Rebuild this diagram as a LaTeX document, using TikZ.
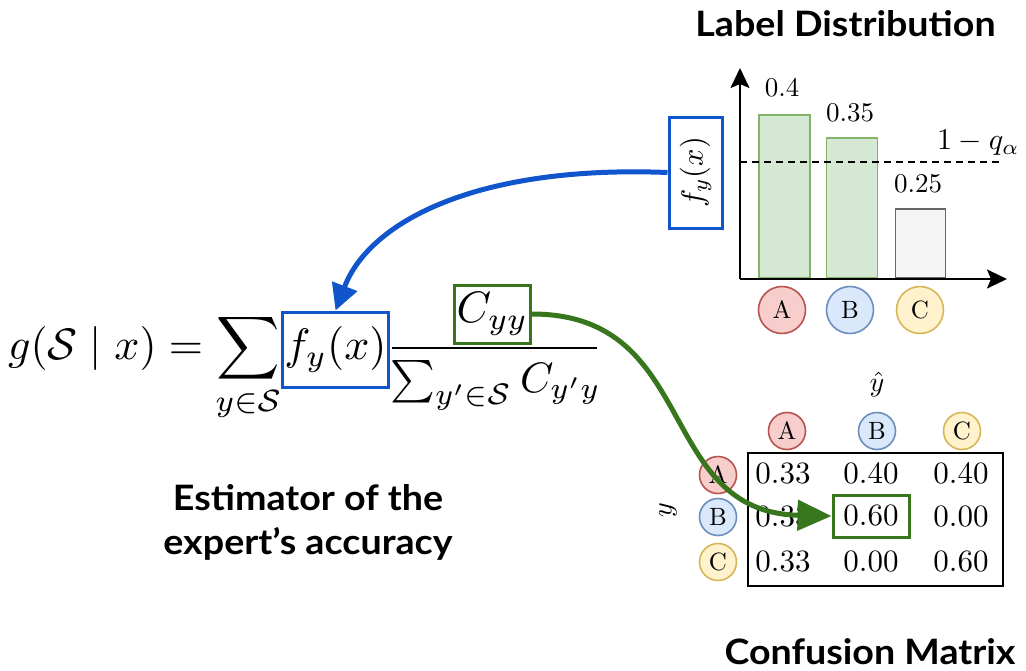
\documentclass[tikz,border=0pt]{standalone}
\usepackage{amsmath}
\usepackage{graphicx}
\usepackage{fontspec}
\newfontfamily\latofont{Lato}[FakeStretch=1.075]
\usetikzlibrary{arrows.meta}
\newcommand{\rsScale}[2]{\scalebox{#1}{#2}}
\definecolor{fblue}{HTML}{1155CC}
\definecolor{cgreen}{HTML}{38761D}
\definecolor{barfill}{HTML}{D5E8D4}
\definecolor{barline}{HTML}{82B366}
\definecolor{greyfill}{HTML}{F5F5F5}
\definecolor{greyline}{HTML}{666666}
\definecolor{afill}{HTML}{F8CECC}
\definecolor{aline}{HTML}{B85450}
\definecolor{bfill}{HTML}{DAE8FC}
\definecolor{bline}{HTML}{6C8EBF}
\definecolor{cfill}{HTML}{FFF2CC}
\definecolor{cline}{HTML}{D6B656}
\begin{document}
\begin{tikzpicture}[x=1pt,y=-1pt,
  title/.style={font=\latofont\bfseries\fontsize{35}{45}\selectfont, inner sep=0pt},
  plain/.style={inner sep=0pt},
  axisline/.style={line width=2.2pt, -{Stealth[length=20pt,width=19pt,inset=4pt]}},
  barG/.style={draw=barline, fill=barfill, line width=1.6pt, minimum width=51pt, anchor=south, inner sep=0pt},
  barW/.style={draw=greyline, fill=greyfill, line width=1.6pt, minimum width=50pt, anchor=south, inner sep=0pt},
  circA/.style={circle, draw=aline, fill=afill, line width=1.6pt, inner sep=0pt},
  circB/.style={circle, draw=bline, fill=bfill, line width=1.6pt, inner sep=0pt},
  circC/.style={circle, draw=cline, fill=cfill, line width=1.6pt, inner sep=0pt},
  bigc/.style={minimum size=47pt},
  smallc/.style={minimum size=37pt},
  fbox/.style={draw=fblue, line width=3pt, inner sep=0pt},
  gbox/.style={draw=cgreen, line width=3pt, inner sep=0pt},
  barrow/.style={draw=fblue, line width=5pt, -{Triangle[length=26pt,width=26pt]}},
  garrow/.style={draw=cgreen, line width=5pt, -{Triangle[length=34pt,width=30pt]}}
]
\useasboundingbox (0,0) rectangle (1026,670);

% titles
\node[title, anchor=base] (t1) at (845.5,36.5) {Label Distribution};
\node[title, anchor=base] (t2) at (870,664) {Confusion Matrix};
\node[title, anchor=base] (est1) at (308,510) {Estimator of the};
\node[title, anchor=base] (est2) at (308,554) {expert’s accuracy};

% bar chart
\coordinate (o) at (740,279);
\coordinate (ytip) at (740,68);
\coordinate (xtip) at (1007,279);
\node[barG, minimum height=163pt] (barA) at (784.5,279) {};
\node[barG, minimum height=140pt] (barB) at (852,279) {};
\node[barW, minimum height=69pt] (barC) at (920.5,279) {};
\draw[axisline] (o) -- (ytip);
\draw[axisline] (o) -- (xtip);
\coordinate (d1) at (740,162);
\coordinate (d2) at (1000,162);
\draw[line width=1.6pt, dash pattern=on 7pt off 5pt] (d1) -- (d2);
\node[plain] (vA) at (782,88) {\rsScale{2.7}{$0.4$}};
\node[plain] (vB) at (850,113) {\rsScale{2.7}{$0.35$}};
\node[plain] (vC) at (918,184) {\rsScale{2.7}{$0.25$}};
\node[plain, anchor=west] (q) at (937,143) {\rsScale{3.0}{$1-q_\alpha$}};
\node[circA, bigc] (cA) at (782,310) {\rsScale{2.5}{A}};
\node[circB, bigc] (cB) at (850,310) {\rsScale{2.5}{B}};
\node[circC, bigc] (cC) at (920,310) {\rsScale{2.5}{C}};
\node[fbox, rotate=90, minimum width=111pt, minimum height=53pt] (fx) at (695.5,172.5) {\rsScale{3.05}{$f_y(x)$}};

% formula
\node[plain, anchor=base east] (lhs) at (282,359) {\rsScale{4.4}{$\displaystyle g(\mathcal{S}\mid x)=\sum_{y\in\mathcal{S}}$}};
\node[fbox, minimum width=106pt, minimum height=75pt] (fy) at (335.5,349.5) {\rsScale{4.4}{$f_y(x)$}};
\coordinate (fb1) at (392,348);
\coordinate (fb2) at (597,348);
\draw[line width=1.8pt] (fb1) -- (fb2);
\node[gbox, minimum width=76pt, minimum height=58pt] (cyy) at (492.5,314) {\rsScale{4.4}{$C_{yy}$}};
\node[plain, anchor=base] (den) at (495.5,392) {\rsScale{4.25}{$\textstyle\sum_{y'\in\mathcal{S}} C_{y'y}$}};

% confusion matrix
\node[draw, line width=1.8pt, minimum width=255pt, minimum height=133pt, inner sep=0pt] (mat) at (875.5,519.5) {};
\node[plain] (yhat) at (877,384) {\rsScale{2.8}{$\hat{y}$}};
\node[plain, rotate=90] (ylab) at (668,510) {\rsScale{2.8}{$y$}};
\node[circA, smallc] (hA) at (787,431) {\rsScale{2.5}{A}};
\node[circB, smallc] (hB) at (877,431) {\rsScale{2.5}{B}};
\node[circC, smallc] (hC) at (962,431) {\rsScale{2.5}{C}};
\node[circA, smallc] (rA) at (718,475) {\rsScale{2.5}{A}};
\node[circB, smallc] (rB) at (718,517) {\rsScale{2.5}{B}};
\node[circC, smallc] (rC) at (718,562) {\rsScale{2.5}{C}};
\node[plain] (m11) at (783,474) {\rsScale{3.1}{$0.33$}};
\node[plain] (m12) at (871,474) {\rsScale{3.1}{$0.40$}};
\node[plain] (m13) at (961,474) {\rsScale{3.1}{$0.40$}};
\node[plain] (m21) at (783,517) {\rsScale{3.1}{$0.33$}};
\node[gbox, minimum width=76pt, minimum height=42pt] (m22) at (871,516) {\rsScale{3.1}{$0.60$}};
\node[plain] (m23) at (961,517) {\rsScale{3.1}{$0.00$}};
\node[plain] (m31) at (783,562) {\rsScale{3.1}{$0.33$}};
\node[plain] (m32) at (871,562) {\rsScale{3.1}{$0.00$}};
\node[plain] (m33) at (961,562) {\rsScale{3.1}{$0.60$}};

% connectors
\draw[barrow] (fx.north) .. controls (480,165) and (370,220) .. (fy.north);
\draw[garrow] (cyy.east) .. controls (700,314) and (655,512) .. (m22.west);
\end{tikzpicture}
\end{document}
